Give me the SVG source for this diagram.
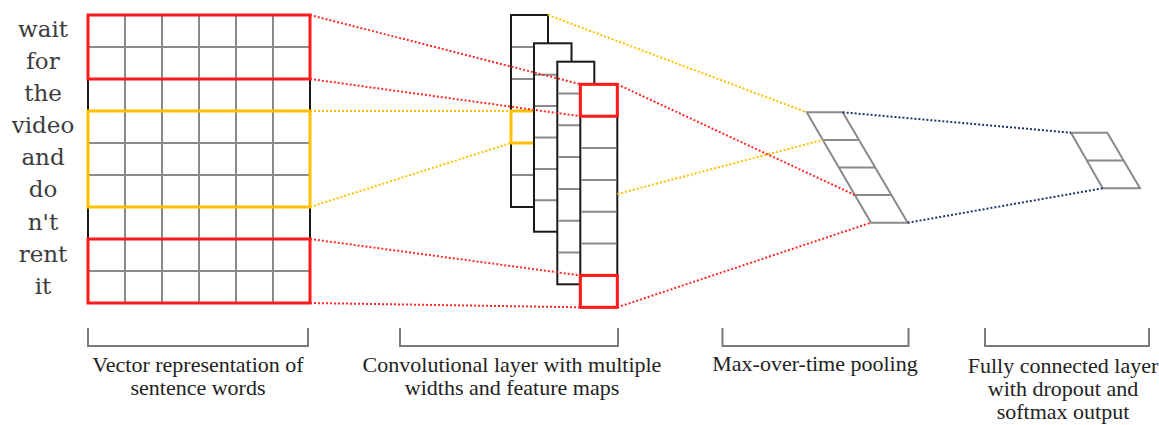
<svg xmlns="http://www.w3.org/2000/svg" width="1159" height="425" viewBox="0 0 1159 425">
<style>
  .word { font-family: "DejaVu Serif", "Liberation Serif", serif; font-size: 23px; fill: #3c3c3c; text-anchor: middle; }
  .label { font-family: "Liberation Serif", "Times New Roman", serif; font-size: 22px; fill: #222; text-anchor: middle; }
  .grid { stroke: #8a8a8a; stroke-width: 2; fill: none; }
  .outline { stroke: #1a1a1a; stroke-width: 2; fill: none; }
  .fmap { stroke: #1a1a1a; stroke-width: 2; fill: #fff; }
  .red { stroke: #ff1a1a; stroke-width: 3; fill: none; }
  .yellow { stroke: #ffc000; stroke-width: 3; fill: none; }
  .para { stroke: #8a8a8a; stroke-width: 2; fill: #fff; stroke-linejoin: miter; }
  .bracket { stroke: #7a7a7a; stroke-width: 2; fill: none; }
  .dot { stroke-width: 2; stroke-dasharray: 2 2; fill: none; }
  .dred { stroke: #ff2a2a; }
  .dyel { stroke: #ffc000; }
  .dnavy { stroke: #1f3468; }
</style>
<rect width="1159" height="425" fill="#fff"/>

<g id="words">
  <text class="word" x="43" y="37">wait</text>
  <text class="word" x="43" y="69">for</text>
  <text class="word" x="43" y="101">the</text>
  <text class="word" x="43" y="133">video</text>
  <text class="word" x="43" y="165">and</text>
  <text class="word" x="43" y="197">do</text>
  <text class="word" x="43" y="229.5">n't</text>
  <text class="word" x="43" y="261.5">rent</text>
  <text class="word" x="43" y="293.5">it</text>
</g>

<g id="sentence-matrix">
  <rect x="88" y="15" width="222" height="288" fill="#fff" stroke="none"/>
  <path class="grid" d="M125,15V303M162,15V303M199,15V303M236,15V303M273,15V303M88,47H310M88,79H310M88,111H310M88,143H310M88,175H310M88,207H310M88,239H310M88,271H310"/>
  <rect class="outline" x="88" y="15" width="222" height="288"/>
  <rect class="red" x="88" y="15" width="222" height="64"/>
  <rect class="yellow" x="88" y="111" width="222" height="96"/>
  <rect class="red" x="88" y="239" width="222" height="64"/>
</g>

<g id="feature-map-1">
  <rect class="fmap" x="511" y="15" width="37" height="192"/>
  <path class="grid" d="M512,47H547M512,79H547M512,111H547M512,143H547M512,175H547"/>
  <rect class="yellow" x="511" y="111" width="37" height="32"/>
</g>
<g id="feature-map-2">
  <rect class="fmap" x="534" y="43.3" width="37.5" height="188.4"/>
  <path class="grid" d="M535,74.7H570.5M535,106.1H570.5M535,137.5H570.5M535,168.9H570.5M535,200.3H570.5"/>
</g>
<g id="feature-map-3">
  <rect class="fmap" x="557.3" y="61.7" width="37" height="222.6"/>
  <path class="grid" d="M558.3,93.5H593.3M558.3,125.3H593.3M558.3,157.1H593.3M558.3,188.9H593.3M558.3,220.7H593.3M558.3,252.5H593.3"/>
</g>
<g id="feature-map-4">
  <rect class="fmap" x="580.3" y="84.3" width="37" height="223"/>
  <path class="grid" d="M581.3,116.2H616.3M581.3,148H616.3M581.3,179.9H616.3M581.3,211.7H616.3M581.3,243.6H616.3M581.3,275.4H616.3"/>
  <rect class="red" x="580.3" y="84.3" width="37" height="31.9"/>
  <rect class="red" x="580.3" y="275.4" width="37" height="31.9"/>
</g>

<g id="pooling">
  <polygon class="para" points="806.7,112.3 842.7,112.3 907.7,222.7 871,222.7"/>
  <path class="grid" d="M822.8,139.9H858.8M838.9,167.5H874.9M855,195.1H891"/>
</g>

<g id="fully-connected">
  <polygon class="para" points="1071,132.7 1107.3,132.7 1140,188.3 1102.7,188.3"/>
  <path class="grid" d="M1087,160.5H1123.5"/>
</g>

<g id="connectors">
  <path class="dot dred" d="M310,15L580.3,84.3"/>
  <path class="dot dred" d="M310,79L580.3,116.2"/>
  <path class="dot dred" d="M310,239L580.3,275.4"/>
  <path class="dot dred" d="M310,303L580.3,307.3"/>
  <path class="dot dyel" d="M310,111L511,111"/>
  <path class="dot dyel" d="M310,207L511,143"/>
  <path class="dot dyel" d="M548,15L806.7,112.3"/>
  <path class="dot dyel" d="M617.3,194L822.8,139.9"/>
  <path class="dot dred" d="M617.3,84.3L855,195.1"/>
  <path class="dot dred" d="M617.3,307.3L871,222.7"/>
  <path class="dot dnavy" d="M842.7,112.3L1071,132.7"/>
  <path class="dot dnavy" d="M907.7,222.7L1102.7,188.3"/>
</g>

<g id="brackets">
  <path class="bracket" d="M88,328V346H308V328"/>
  <path class="bracket" d="M400,328V346H618V328"/>
  <path class="bracket" d="M722.5,328V346H908.5V328"/>
  <path class="bracket" d="M985,328V346H1149V328"/>
</g>

<g id="labels">
  <text class="label" x="198" y="372">Vector representation of</text>
  <text class="label" x="198" y="395">sentence words</text>
  <text class="label" x="512" y="372">Convolutional layer with multiple</text>
  <text class="label" x="512" y="395">widths and feature maps</text>
  <text class="label" x="815" y="371">Max-over-time pooling</text>
  <text class="label" x="1063" y="373">Fully connected layer</text>
  <text class="label" x="1063" y="396">with dropout and</text>
  <text class="label" x="1063" y="419">softmax output</text>
</g>
</svg>
